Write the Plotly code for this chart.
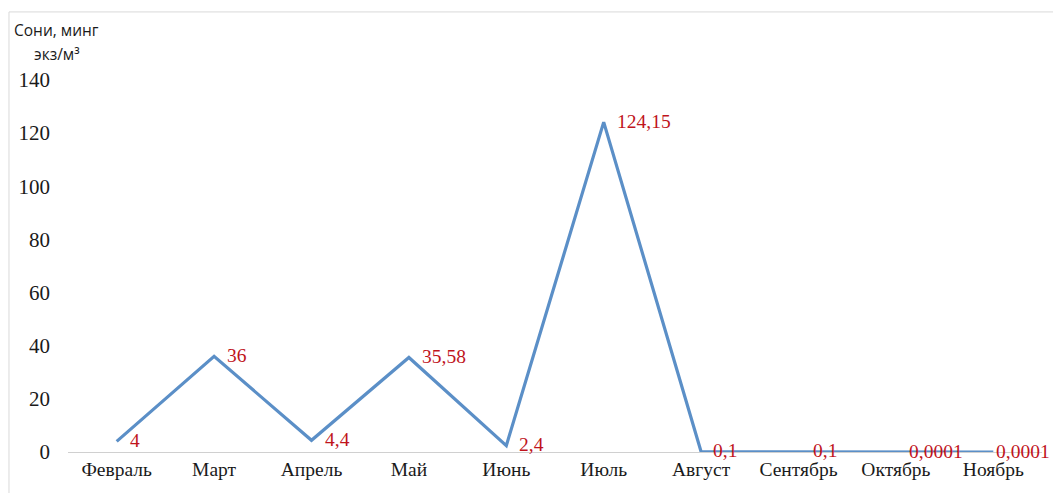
import plotly.graph_objects as go

months = ["Февраль", "Март", "Апрель", "Май", "Июнь", "Июль",
          "Август", "Сентябрь", "Октябрь", "Ноябрь"]
density = [4, 36, 4.4, 35.58, 2.4, 124.15, 0.1, 0.1, 0.0001, 0.0001]
y_ticks = [0, 20, 40, 60, 80, 100, 120, 140]

# value labels written with a decimal comma
labels = ["{:g}".format(v).replace(".", ",") for v in density]
# horizontal gap between each point and its label (last one kept inside the frame)
label_shift = [11, 11, 11, 11, 11, 11, 10, 12, 11, 1]

SERIF = "Liberation Serif, Times New Roman, serif"
SANS = "Open Sans, sans-serif"

fig = go.Figure()
fig.add_trace(go.Scatter(
    x=months,
    y=density,
    mode="lines",
    line=dict(color="#5B8FC7", width=3.2),
    hoverinfo="skip",
))

value_labels = [
    dict(
        x=m, y=v, xref="x", yref="y",
        text=t, showarrow=False,
        xanchor="left", yanchor="middle",
        xshift=s, yshift=1,
        font=dict(family=SERIF, size=19.5, color="#C0141C"),
    )
    for m, v, t, s in zip(months, density, labels, label_shift)
]

title_lines = [
    dict(
        text="Сони, минг",
        xref="paper", yref="paper",
        x=-0.058, y=1.135,
        xanchor="left", yanchor="middle",
        showarrow=False,
        font=dict(family=SANS, size=15.5, color="#1a1a1a"),
    ),
    dict(
        text="экз/м³",
        xref="paper", yref="paper",
        x=-0.037, y=1.07,
        xanchor="left", yanchor="middle",
        showarrow=False,
        font=dict(family=SANS, size=15.5, color="#1a1a1a"),
    ),
]

fig.update_layout(
    width=1053,
    height=493,
    margin=dict(l=68, r=11, t=80, b=41),
    paper_bgcolor="white",
    plot_bgcolor="white",
    showlegend=False,
    font=dict(family=SERIF, size=19, color="#1a1a1a"),
    xaxis=dict(
        type="category",
        range=[-0.5, 9.5],
        showgrid=False,
        showline=True,
        linecolor="#D0D0D0",
        linewidth=1,
        ticks="",
        tickfont=dict(family=SERIF, size=19.5, color="#1a1a1a"),
    ),
    yaxis=dict(
        range=[0, 140],
        tickvals=y_ticks,
        showgrid=False,
        zeroline=False,
        showline=False,
        ticks="",
        ticklabelstandoff=17,
        tickfont=dict(family=SERIF, size=21, color="#1a1a1a"),
    ),
    shapes=[dict(
        type="rect", xref="paper", yref="paper",
        x0=-0.0606, x1=1.02, y0=-0.2, y1=1.183,
        line=dict(color="#D9D9D9", width=1),
        layer="below",
    )],
    annotations=value_labels + title_lines,
)

fig.write_html("out.html")
